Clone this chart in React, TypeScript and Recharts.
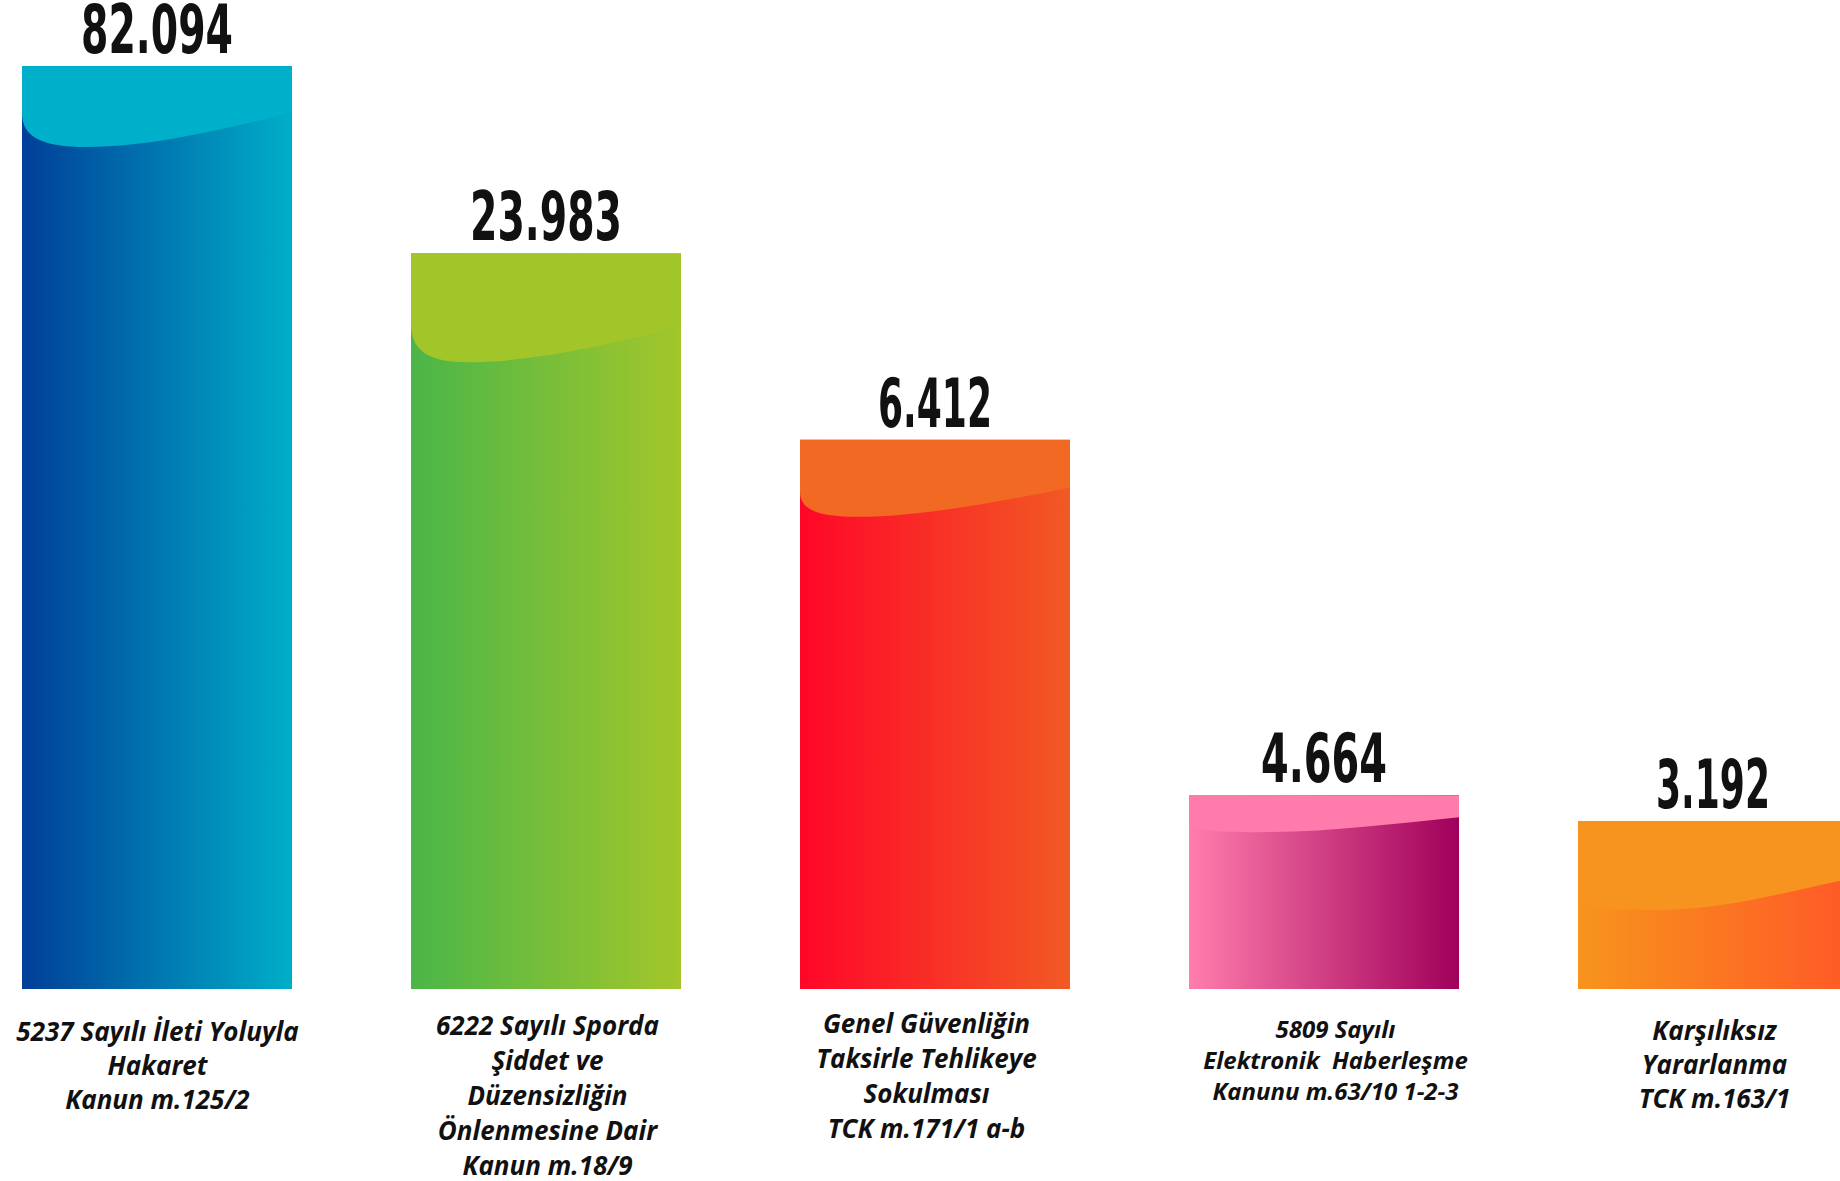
import React from "react";
import { BarChart, Bar, XAxis, YAxis, LabelList } from "recharts";

// Category labels (line breaks as in the picture)
const categories: string[] = [
  "5237 Sayılı İleti Yoluyla\nHakaret\nKanun m.125/2",
  "6222 Sayılı Sporda\nŞiddet ve\nDüzensizliğin\nÖnlenmesine Dair\nKanun m.18/9",
  "Genel Güvenliğin\nTaksirle Tehlikeye\nSokulması\nTCK m.171/1 a-b",
  "5809 Sayılı\nElektronik  Haberleşme\nKanunu m.63/10 1-2-3",
  "Karşılıksız\nYararlanma\nTCK m.163/1",
];

// Values printed above the bars
const counts: number[] = [82094, 23983, 6412, 4664, 3192];

// Visual bar heights as drawn in the picture (the infographic is not to scale), tallest = 100
const barHeights: number[] = [100, 79.7, 59.5, 21.0, 18.2];

const data = categories.map((name, i) => ({
  name,
  count: counts[i],
  height: barHeights[i],
}));

// Styles
const gradients = [
  { from: "#003F98", to: "#00AEC8", cap: "#00AFC9" },
  { from: "#4AB648", to: "#A3C62B", cap: "#A2C52A" },
  { from: "#FF0628", to: "#F15A24", cap: "#F26924" },
  { from: "#FF7DAC", to: "#A0005A", cap: "#FF7BAB" },
  { from: "#F7941D", to: "#FF5A26", cap: "#F7941F" },
];

// cap curve: a = left start, b = lowest point, bx = x-fraction of lowest, c = right end (px below top)
const caps = [
  { a: 47, b: 81, bx: 0.24, c: 47 },
  { a: 70, b: 109, bx: 0.21, c: 74 },
  { a: 52, b: 77, bx: 0.21, c: 48 },
  { a: 28, b: 37, bx: 0.26, c: 22 },
  { a: 76, b: 89, bx: 0.29, c: 58 },
];

const tickStyles = [
  { fs: 26, lh: 34, first: 52, dx: 1 },
  { fs: 26, lh: 35, first: 46, dx: 2 },
  { fs: 26, lh: 35, first: 44, dx: -8 },
  { fs: 24, lh: 31, first: 49, dx: 12 },
  { fs: 26, lh: 34, first: 51, dx: 2 },
];

const fmt = (n: number) => String(n).replace(/\B(?=(\d{3})+(?!\d))/g, ".");

const textWidth = (s: string) =>
  s.split("").reduce((acc, ch) => acc + (ch === "." ? 22 : ch === "1" ? 14 : 26), 0);

const BarShape = (props: any) => {
  const { x, y, width, height, index } = props;
  const g = gradients[index];
  const c = caps[index];
  const w = width;
  const bxPos = x + w * c.bx;
  const d = [
    `M ${x} ${y}`,
    `H ${x + w}`,
    `V ${y + c.c}`,
    `C ${x + w * 0.75} ${y + c.c + (c.b - c.c) * 0.45} ${x + w * (c.bx + 0.25)} ${y + c.b} ${bxPos} ${y + c.b}`,
    `C ${x + w * c.bx * 0.3} ${y + c.b} ${x} ${y + c.a + (c.b - c.a) * 0.7} ${x} ${y + c.a}`,
    "Z",
  ].join(" ");
  return (
    <g>
      <rect x={x} y={y} width={w} height={height} fill={`url(#barGrad${index})`} />
      <path d={d} fill={g.cap} />
    </g>
  );
};

const ValueLabel = (props: any) => {
  const { x, y, width, value } = props;
  const s = fmt(Number(value));
  return (
    <text
      x={x + width / 2}
      y={y - 13}
      textAnchor="middle"
      fontFamily="'Liberation Sans Narrow', 'DejaVu Sans Condensed', 'Roboto Condensed', sans-serif"
      fontWeight={700}
      fontSize={68}
      fill="#111111"
      textLength={textWidth(s)}
      lengthAdjust="spacingAndGlyphs"
    >
      {s}
    </text>
  );
};

const CategoryTick = (props: any) => {
  const { x, y, payload } = props;
  const idx = categories.indexOf(payload.value);
  const st = tickStyles[idx >= 0 ? idx : 0];
  const lines = String(payload.value).split("\n");
  const cx = x + st.dx;
  return (
    <text
      x={cx}
      y={y}
      textAnchor="middle"
      fontFamily="'Open Sans', Lato, 'Noto Sans', sans-serif"
      fontWeight={700}
      fontStyle="italic"
      fontSize={st.fs}
      fill="#111111"
      style={{ whiteSpace: "pre" }}
    >
      {lines.map((l, i) => (
        <tspan key={i} x={cx} y={y + st.first + i * st.lh}>
          {l}
        </tspan>
      ))}
    </text>
  );
};

export default function App() {
  return (
    <div
      style={{
        position: "absolute",
        left: 0,
        top: 0,
        width: 1840,
        height: 1181,
        overflow: "hidden",
        background: "#ffffff",
      }}
    >
      <div style={{ position: "absolute", left: -38.5, top: 0 }}>
        <BarChart
          width={1945}
          height={1181}
          data={data}
          margin={{ top: 66, right: 0, bottom: 0, left: 0 }}
          barCategoryGap={0}
        >
          <defs>
            {gradients.map((g, i) => (
              <linearGradient key={i} id={`barGrad${i}`} x1="0" y1="0" x2="1" y2="0">
                <stop offset="0%" stopColor={g.from} />
                <stop offset="100%" stopColor={g.to} />
              </linearGradient>
            ))}
          </defs>
          <XAxis
            dataKey="name"
            axisLine={false}
            tickLine={false}
            tickSize={0}
            tickMargin={0}
            interval={0}
            height={192}
            tick={<CategoryTick />}
          />
          <YAxis hide domain={[0, 100]} />
          <Bar
            dataKey="height"
            barSize={270}
            shape={<BarShape />}
            isAnimationActive={false}
          >
            <LabelList dataKey="count" content={<ValueLabel />} />
          </Bar>
        </BarChart>
      </div>
    </div>
  );
}
